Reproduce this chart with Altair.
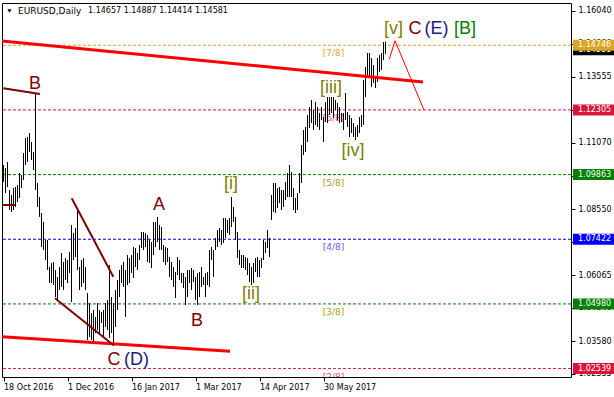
import altair as alt
import pandas as pd

# ---- EURUSD daily bars, index 0 = 18 Oct 2016 ----
highs = [
    1.10225, 1.10111, 1.10338, 1.09281, 1.09092, 1.09356, 1.09394, 1.09470, 1.09923, 1.09847,
    1.10678, 1.11244, 1.11282, 1.11433, 1.11093, 1.10716, 1.12943, 1.09545, 1.09017, 1.08413,
    1.08072, 1.07393, 1.07393, 1.06374, 1.06525, 1.06562, 1.06261, 1.05996, 1.06374, 1.06902,
    1.06562, 1.06713, 1.06638, 1.06940, 1.07959, 1.07657, 1.07846, 1.08602, 1.06374, 1.06638,
    1.06713, 1.06374, 1.05392, 1.05014, 1.04637, 1.04750, 1.04486, 1.05014, 1.04750, 1.04674,
    1.04750, 1.05014, 1.05128, 1.06449, 1.05241, 1.05014, 1.05505, 1.05883, 1.06261, 1.06449,
    1.06562, 1.06261, 1.06827, 1.06713, 1.06827, 1.07128, 1.07091, 1.06902, 1.07204, 1.07695,
    1.07695, 1.07657, 1.07582, 1.07393, 1.07317, 1.08072, 1.08072, 1.08261, 1.07959, 1.07884,
    1.07204, 1.07128, 1.07091, 1.06751, 1.06562, 1.06374, 1.06185, 1.06751, 1.06638, 1.06147,
    1.06147, 1.05996, 1.06261, 1.06261, 1.06336, 1.06261, 1.05996, 1.06147, 1.06185, 1.06374,
    1.05996, 1.06147, 1.06185, 1.07016, 1.07128, 1.07016, 1.07468, 1.07771, 1.07846, 1.07771,
    1.08224, 1.08224, 1.08148, 1.08224, 1.09017, 1.08639, 1.08261, 1.07695, 1.07016, 1.06827,
    1.06827, 1.06751, 1.06713, 1.06525, 1.06374, 1.06525, 1.06713, 1.06751, 1.06638, 1.06713,
    1.07393, 1.07317, 1.07771, 1.07468, 1.09092, 1.09545, 1.09545, 1.09356, 1.09394, 1.09281,
    1.09281, 1.09583, 1.09923, 1.10225, 1.09960, 1.09356, 1.08979, 1.09168, 1.09923, 1.10980,
    1.11547, 1.11659, 1.12113, 1.12414, 1.12679, 1.12302, 1.12603, 1.12414, 1.12188, 1.12414,
    1.12037, 1.12603, 1.12792, 1.12792, 1.12792, 1.12792, 1.12679, 1.12566, 1.12414, 1.12188,
    1.12188, 1.12943, 1.12226, 1.12113, 1.11999, 1.11810, 1.11659, 1.11735, 1.12037, 1.12113,
    1.13434, 1.13925, 1.14454, 1.14454, 1.14265, 1.14001, 1.13547, 1.14265, 1.14378, 1.14454,
    1.14869, 1.14887,
]
lows = [
    1.09583, 1.09168, 1.09394, 1.08526, 1.08450, 1.08526, 1.08639, 1.08828, 1.08979, 1.09356,
    1.09659, 1.10225, 1.10338, 1.10716, 1.10414, 1.10036, 1.09281, 1.08639, 1.08261, 1.07128,
    1.07016, 1.06638, 1.06261, 1.05769, 1.05769, 1.05694, 1.05241, 1.05128, 1.05505, 1.05618,
    1.05505, 1.05883, 1.05769, 1.06147, 1.05052, 1.06638, 1.06751, 1.06261, 1.05505, 1.05618,
    1.05769, 1.05505, 1.03618, 1.03731, 1.03618, 1.03504, 1.03882, 1.03995, 1.03882, 1.04259,
    1.03731, 1.04108, 1.03995, 1.03693, 1.03882, 1.03391, 1.04108, 1.04750, 1.05241, 1.05769,
    1.05618, 1.04486, 1.05694, 1.05769, 1.06147, 1.05958, 1.06374, 1.06261, 1.06638, 1.07091,
    1.07016, 1.07128, 1.06562, 1.06525, 1.06336, 1.06827, 1.07128, 1.07317, 1.07016, 1.07016,
    1.06562, 1.06449, 1.06562, 1.05996, 1.05883, 1.05618, 1.05203, 1.06072, 1.05883, 1.05769,
    1.05580, 1.04939, 1.05241, 1.05769, 1.05505, 1.05807, 1.05128, 1.04939, 1.05241, 1.05618,
    1.05694, 1.05241, 1.05694, 1.05618, 1.06638, 1.05996, 1.07016, 1.07128, 1.07317, 1.07204,
    1.07280, 1.07468, 1.07657, 1.07582, 1.07884, 1.08072, 1.07393, 1.06713, 1.06449, 1.06336,
    1.06336, 1.06261, 1.06072, 1.05807, 1.05694, 1.05769, 1.06185, 1.05996, 1.05996, 1.06336,
    1.06638, 1.06902, 1.07091, 1.06751, 1.08148, 1.08450, 1.08413, 1.08602, 1.08790, 1.08526,
    1.08639, 1.08904, 1.09017, 1.09017, 1.09017, 1.08526, 1.08413, 1.08526, 1.09168, 1.09545,
    1.10602, 1.10716, 1.11093, 1.11622, 1.11810, 1.11547, 1.11735, 1.11659, 1.11547, 1.11924,
    1.11093, 1.11848, 1.11810, 1.12113, 1.12188, 1.11999, 1.12302, 1.11924, 1.11810, 1.11848,
    1.11547, 1.11924, 1.11659, 1.11282, 1.11433, 1.11282, 1.11169, 1.11282, 1.11433, 1.11659,
    1.11735, 1.12792, 1.13623, 1.13547, 1.13169, 1.13320, 1.13131, 1.13358, 1.13736, 1.13812,
    1.14190, 1.14414,
]

header_symbol = "EURUSD,Daily"
header_ohlc = "1.14657 1.14887 1.14414 1.14581"
last_close = 1.14581

date_ticks = [0, 32, 64, 96, 128, 160]
date_labels = ["18 Oct 2016", "1 Dec 2016", "16 Jan 2017", "1 Mar 2017", "14 Apr 2017", "30 May 2017"]

price_ticks = [1.16040, 1.14800, 1.13555, 1.12313, 1.11070, 1.09810,
               1.08550, 1.07325, 1.06065, 1.04840, 1.03580, 1.02335]

# Murrey math levels
level_names = ["[7/8]", "[6/8]", "[5/8]", "[4/8]", "[3/8]", "[2/8]"]
level_values = [1.14746, 1.12305, 1.09863, 1.07422, 1.04980, 1.02539]
level_colors = ["#DAA520", "#DC143C", "#008000", "#0000FF", "#008000", "#DC143C"]
level_text_colors = ["#E3A83A", "#E8507A", "#A89E1C", "#6A5AF0", "#A89E1C", "#E8507A"]
level_label_bar = 165

# Trend lines: (segment, bar index, price)
red_seg = ["upper", "upper", "lower", "lower"]
red_bar = [-0.75, 209.75, -0.75, 113.25]
red_price = [1.14907, 1.13358, 1.03742, 1.03195]

brown_seg = ["b1", "b1", "b2", "b2", "b3", "b3", "b4", "b4"]
brown_bar = [-0.1, 18.25, -0.25, 5.75, 34.1, 54.9, 25.75, 54.9]
brown_price = [1.13121, 1.12906, 1.08715, 1.08715, 1.08968, 1.06008, 1.05192, 1.03429]

proj_bar = [192.9, 195.75, 210.25]
proj_price = [1.14216, 1.14919, 1.12302]

# Wave labels
wave_text = ["B", "A", "B", "C", "(D)", "[i]", "[ii]", "[iii]", "[iv]", "[v]", "C", "(E)", "[B]"]
wave_bar = [15.75, 77.75, 96.75, 55.25, 66.5, 113.75, 123.75, 163.75, 174.75, 195.0, 205.75, 216.5, 230.75]
wave_price = [1.13094, 1.08526, 1.04146, 1.02673, 1.02673, 1.09318, 1.05166, 1.12943, 1.10565,
              1.15171, 1.15171, 1.15171, 1.15171]
wave_color = ["#800000", "#800000", "#800000", "#800000", "#1A1A80", "#808000", "#808000",
              "#808000", "#808000", "#808000", "#800000", "#1A1A80", "#008000"]

# Price tags on the right edge
tag_values = [last_close, 1.14746, 1.12305, 1.09863, 1.07422, 1.04980, 1.02539]
tag_colors = ["#000000", "#DAA520", "#DC143C", "#008000", "#0000FF", "#008000", "#DC143C"]

W, H = 569, 374
xs = alt.Scale(domain=[-0.75, 283.75], nice=False, zero=False)
ys = alt.Scale(domain=[1.02221, 1.16342], nice=False, zero=False)
FONT = "DejaVu Sans"
LFONT = "Liberation Sans"

bars_df = pd.DataFrame({"i": list(range(len(highs))), "high": highs, "low": lows})
levels_df = pd.DataFrame({"name": level_names, "p": level_values, "c": level_colors,
                          "tc": level_text_colors, "i": [level_label_bar] * len(level_names)})
red_df = pd.DataFrame({"seg": red_seg, "i": red_bar, "p": red_price})
brown_df = pd.DataFrame({"seg": brown_seg, "i": brown_bar, "p": brown_price})
proj_df = pd.DataFrame({"i": proj_bar, "p": proj_price})
wave_df = pd.DataFrame({"t": wave_text, "i": wave_bar, "p": wave_price, "c": wave_color})
tag_pad = 5.5 * (ys.domain[1] - ys.domain[0]) / H
tag_df = pd.DataFrame({"p": tag_values, "c": tag_colors,
                       "top": [v + tag_pad for v in tag_values],
                       "bot": [v - tag_pad for v in tag_values],
                       "label": [f"{v:.5f}" for v in tag_values]})

label_expr = " : ".join(f"datum.value == {k} ? '{v}'" for k, v in zip(date_ticks, date_labels)) + " : ''"

x_axis = alt.Axis(orient="bottom", values=date_ticks, labelExpr=label_expr, title=None,
                  grid=False, tickSize=4, tickColor="black", domainColor="black",
                  labelAlign="left", labelBaseline="middle", labelPadding=6,
                  labelFont=FONT, labelFontSize=8, labelColor="black",
                  labelOverlap=False, labelFlush=False)
y_axis = alt.Axis(orient="right", values=price_ticks, format=".5f", title=None, grid=False,
                  tickSize=4, tickColor="black", domainColor="black", labelPadding=3,
                  labelFont=FONT, labelFontSize=8, labelColor="black", labelOverlap=False,
                  labelFlush=False)

level_rules = alt.Chart(levels_df).mark_rule(strokeDash=[3, 2], strokeWidth=1).encode(
    y=alt.Y("p:Q", scale=ys, axis=None),
    color=alt.Color("c:N", scale=None),
)
level_labels = alt.Chart(levels_df).mark_text(font=FONT, fontSize=9, dy=8, clip=True).encode(
    x=alt.X("i:Q", scale=xs, axis=None),
    y=alt.Y("p:Q", scale=ys, axis=None),
    text="name:N",
    color=alt.Color("tc:N", scale=None),
)
bars = alt.Chart(bars_df).mark_rule(color="black", strokeWidth=1).encode(
    x=alt.X("i:Q", scale=xs, axis=x_axis),
    y=alt.Y("high:Q", scale=ys, axis=y_axis),
    y2="low:Q",
)
frame_x = alt.Axis(orient="top", labels=False, ticks=False, domainColor="black", title=None, grid=False)
frame_y = alt.Axis(orient="left", labels=False, ticks=False, domainColor="black", title=None, grid=False)
red_lines = alt.Chart(red_df).mark_line(color="#FF0000", strokeWidth=3, clip=True).encode(
    x=alt.X("i:Q", scale=xs, axis=frame_x),
    y=alt.Y("p:Q", scale=ys, axis=frame_y),
    detail="seg:N",
)
brown_lines = alt.Chart(brown_df).mark_line(color="#800000", strokeWidth=2, clip=True).encode(
    x=alt.X("i:Q", scale=xs, axis=None),
    y=alt.Y("p:Q", scale=ys, axis=None),
    detail="seg:N",
)
proj_line = alt.Chart(proj_df).mark_line(color="#FF0000", strokeWidth=1).encode(
    x=alt.X("i:Q", scale=xs, axis=None),
    y=alt.Y("p:Q", scale=ys, axis=None),
)
waves = alt.Chart(wave_df).mark_text(font=LFONT, fontSize=18, baseline="alphabetic").encode(
    x=alt.X("i:Q", scale=xs, axis=None),
    y=alt.Y("p:Q", scale=ys, axis=None),
    text="t:N",
    color=alt.Color("c:N", scale=None),
)
tag_boxes = alt.Chart(tag_df).mark_rect().encode(
    x=alt.value(571),
    x2=alt.value(613),
    y=alt.Y("top:Q", scale=ys, axis=None),
    y2="bot:Q",
    color=alt.Color("c:N", scale=None),
    order=alt.Order("p:Q"),
)
tag_text = alt.Chart(tag_df).mark_text(font=FONT, fontSize=8, align="left", baseline="middle",
                                       color="white").encode(
    x=alt.value(576),
    y=alt.Y("p:Q", scale=ys, axis=None),
    text="label:N",
)
# the close tag sits beneath the 7/8 tag
close_df = tag_df.iloc[[0]]
rest_df = tag_df.iloc[1:]
tags = alt.layer(
    tag_boxes.properties(data=close_df), tag_text.properties(data=close_df),
    tag_boxes.properties(data=rest_df), tag_text.properties(data=rest_df),
)

header_df = pd.DataFrame({"t": [header_symbol, header_ohlc]})
header_sym = alt.Chart(header_df.iloc[[0]]).mark_text(
    font=FONT, fontSize=9, align="left", baseline="middle", color="black"
).encode(x=alt.value(16), y=alt.value(8), text="t:N")
header_num = alt.Chart(header_df.iloc[[1]]).mark_text(
    font=FONT, fontSize=8, align="left", baseline="middle", color="black"
).encode(x=alt.value(86), y=alt.value(8), text="t:N")
header_tri = alt.Chart(header_df.iloc[[0]]).mark_point(
    shape="triangle-down", filled=True, color="black", size=18, opacity=1
).encode(x=alt.value(7.5), y=alt.value(8))

chart = alt.layer(
    level_rules, level_labels, bars, red_lines, brown_lines, proj_line, waves,
    tags, header_tri, header_sym, header_num,
).resolve_axis(x="independent", y="independent").properties(
    width=W, height=H,
    autosize=alt.AutoSizeParams(type="none"),
    padding={"left": 2, "top": 3, "right": 43, "bottom": 20},
    background="white",
).configure_view(stroke=None)

chart.save("out.html", embed_options={"renderer": "svg", "actions": False})
